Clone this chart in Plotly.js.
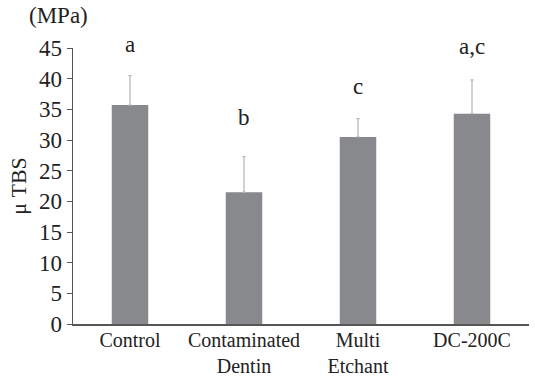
<!DOCTYPE html>
<html><head><meta charset="utf-8">
<script src="https://cdn.plot.ly/plotly-3.0.1.min.js"></script>
<style>html,body{margin:0;padding:0;background:#fff}#chart{width:535px;height:376px}</style>
</head><body><div id="chart"></div>
<script>
const categories = ["Control", "Contaminated<br>Dentin", "Multi<br>Etchant", "DC-200C"];
const means = [35.7, 21.5, 30.5, 34.3];
const sds = [4.8, 5.8, 3.0, 5.5];
const letters = ["a", "b", "c", "a,c"];
const letterY = [45.6, 33.6, 38.7, 45.3];
const yTicks = [0, 5, 10, 15, 20, 25, 30, 35, 40, 45];
const yMax = 45;

const font = {family: "Liberation Serif, DejaVu Serif, serif", color: "#222"};
const f = (s) => Object.assign({}, font, {size: s});

const data = [
  {type: "bar", x: categories, y: means, width: 0.32,
   marker: {color: "#88898d", line: {width: 0}},
   error_y: {type: "data", array: sds, symmetric: false, arrayminus: means.map(()=>0),
             color: "#b5b5b5", thickness: 1.2, width: 1.5},
   hoverinfo: "none"}
];

// letters placed in paper coordinates (range is 0..yMax) so those above the top are not hidden
const letterAnnots = categories.map((c, i) => ({
  text: letters[i], x: c, y: letterY[i] / yMax, xref: "x", yref: "paper",
  showarrow: false, xanchor: "center", yanchor: "middle", font: f(23)
}));

const layout = {
  width: 535, height: 376,
  margin: {l: 73, r: 6, t: 48, b: 52},
  showlegend: false,
  paper_bgcolor: "#fff", plot_bgcolor: "#fff",
  font: font,
  xaxis: {showline: true, linecolor: "#555", linewidth: 1.5, ticks: "", showgrid: false,
          tickfont: f(20), automargin: false, ticklabelstandoff: -3},
  yaxis: {range: [0, yMax], tickvals: yTicks, showline: true, linecolor: "#555", linewidth: 1.5,
          ticks: "outside", ticklen: 5, tickcolor: "#555", showgrid: false, zeroline: false,
          tickfont: f(23), automargin: false,
          title: {text: "μ TBS", font: f(22), standoff: 6}},
  annotations: [{text: "(MPa)", xref: "paper", yref: "paper", x: -0.05, y: 1.065, xshift: 8,
                 xanchor: "center", yanchor: "bottom", showarrow: false,
                 font: f(23)}].concat(letterAnnots)
};
Plotly.newPlot("chart", data, layout, {displayModeBar: false, staticPlot: true});
</script></body></html>
